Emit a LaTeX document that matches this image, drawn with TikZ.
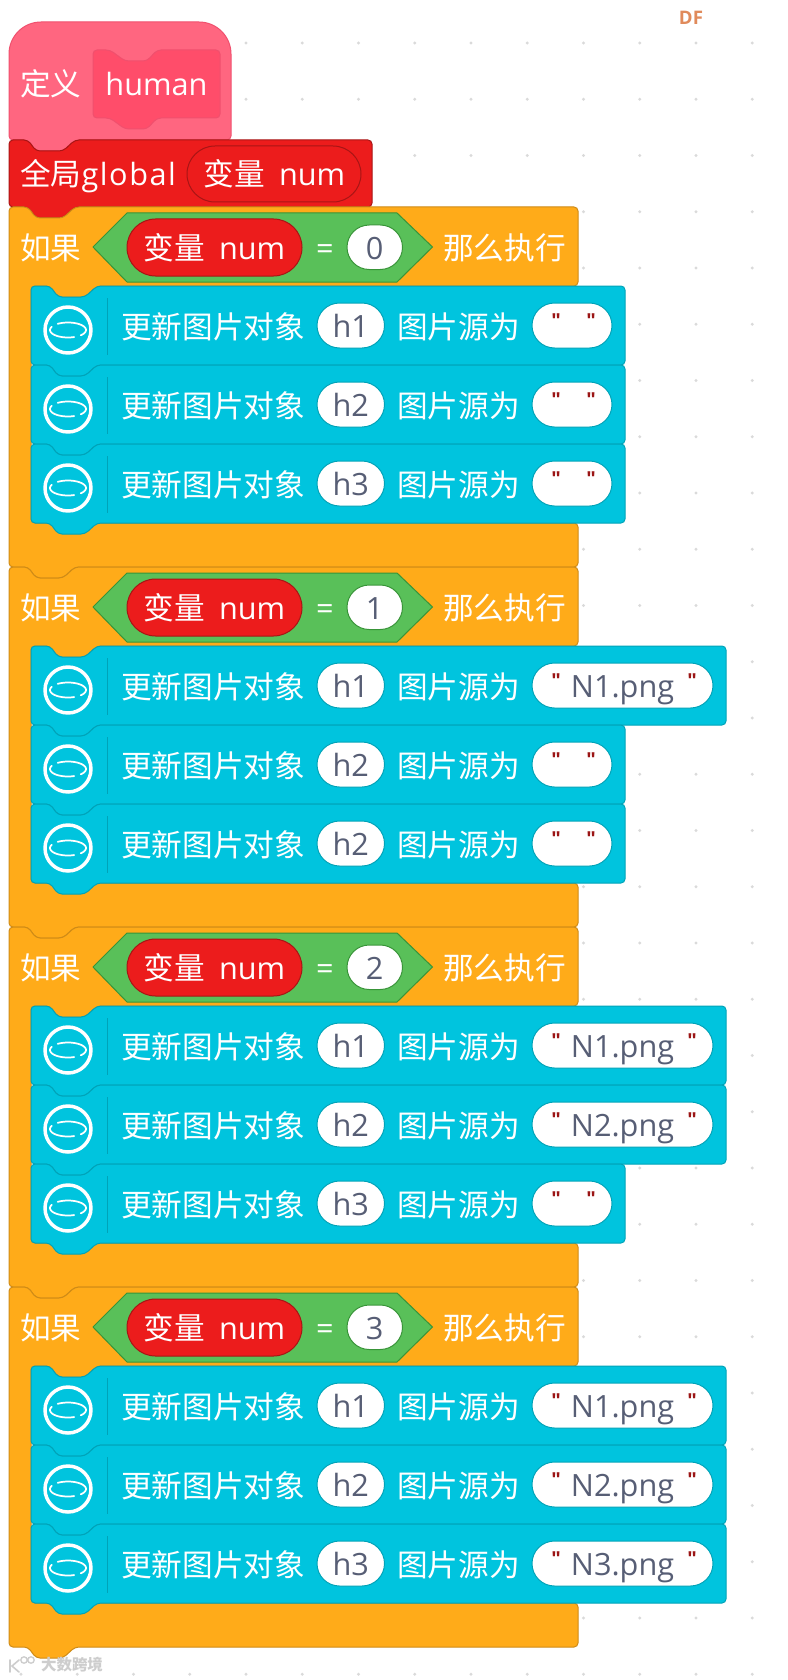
\documentclass[tikz,border=0pt]{standalone}
\usepackage{fontspec}
\setmainfont{Open Sans}
\newfontfamily\cjk{Noto Sans CJK SC}
\newfontfamily\quotef{Liberation Sans}
\definecolor{orangeF}{HTML}{FFAB19}
\definecolor{orangeD}{HTML}{CF8B17}
\definecolor{greenF}{HTML}{59C059}
\definecolor{greenD}{HTML}{389438}
\definecolor{redF}{HTML}{EC1C1C}
\definecolor{redD}{HTML}{A81515}
\definecolor{tealF}{HTML}{00C4DE}
\definecolor{tealD}{HTML}{00A3B8}
\definecolor{pinkF}{HTML}{FF6680}
\definecolor{pinkD}{HTML}{F0506E}
\definecolor{pinkI}{HTML}{FF4D6A}
\definecolor{inkD}{HTML}{575E75}
\definecolor{quoteC}{HTML}{9B1515}
\definecolor{dotC}{HTML}{DADADA}
\definecolor{wmC}{HTML}{CDCDCD}
\definecolor{dfC}{HTML}{E08A5B}
\tikzset{
  x=0.75pt,y=-0.75pt,
  shapeline/.style={line width=0.75pt,rounded corners=3pt,line join=round},
  orangeblock/.style={shapeline,fill=orangeF,draw=orangeD},
  tealblock/.style={shapeline,fill=tealF,draw=tealD},
  redblock/.style={shapeline,fill=redF,draw=redD},
  pinkblock/.style={shapeline,fill=pinkF,draw=pinkD},
  pinkinner/.style={shapeline,fill=pinkI,draw=pinkD},
  hexshape/.style={line width=0.75pt,fill=greenF,draw=greenD,line join=round},
  labeltext/.style={inner sep=0pt,anchor=base west,text=white,font=\fontsize{23pt}{23pt}\selectfont},
  labelmid/.style={inner sep=0pt,anchor=base,text=white,font=\fontsize{23pt}{23pt}\selectfont},
  valuetext/.style={inner sep=0pt,anchor=base,text=inkD,font=\fontsize{23pt}{23pt}\selectfont},
  quotetext/.style={inner sep=0pt,anchor=base,text=quoteC,font=\quotef\fontsize{15pt}{15pt}\bfseries\selectfont},
}
% pill: x1 y1 x2 y2 style
\newcommand\pillshape[5]{%
  \pgfmathsetmacro\pillr{((#4)-(#2))/2*0.75-0.01}%
  \path[#5,rounded corners=\pillr pt,line width=0.75pt] (#1,#2) -- (#3,#2) -- (#3,#4) -- (#1,#4) -- cycle;%
}
% variable pill: id, x1, y1, x2, y2
\newcommand\varpill[5]{%
  \pillshape{#2}{#3}{#4}{#5}{fill=redF,draw=redD}%
}
% statement row: id, y0, handle, right edge, pill right, source
\newcommand\stmtrow[6]{%
  \draw[tealblock]
    (31,#2) -- (50,#2) -- (58,#2+11) -- (85,#2+11) -- (97,#2) -- (#4,#2) -- (#4,#2+79)
    -- (97,#2+79) -- (85,#2+90) -- (58,#2+90) -- (50,#2+79) -- (31,#2+79) -- cycle;
  \draw[white,line width=2.6pt] (68,#2+44) circle[radius=23];
  \draw[white,line width=1.3pt,line cap=round] plot[smooth,domain=-125:45,samples=24] ({68+18*cos(\x)},{#2+44+7.5*sin(\x)});
  \draw[white,line width=1.3pt,line cap=round] plot[smooth,domain=70:205,samples=20] ({68+18*cos(\x)},{#2+44+7.5*sin(\x)});
  \draw[tealD,line width=0.75pt] (107,#2+12) -- (107,#2+69);
  \node[labeltext] (#1a) at (121,#2+52) {\cjk 更新图片对象};
  \pillshape{317}{#2+17}{384.5}{#2+62}{fill=white,draw=tealD}
  \node[valuetext] (#1h) at (350.75,#2+51) {#3};
  \node[labeltext] (#1b) at (397,#2+52) {\cjk 图片源为};
  \pillshape{532}{#2+17}{#5}{#2+62}{fill=white,draw=tealD}
  \node[quotetext] (#1q) at (556,#2+41) {"};
  \node[quotetext] (#1r) at (#5-21,#2+41) {"};
  \node[valuetext] (#1s) at (#5/2+532/2,#2+51) {#6};
}
% if header: id, Y, value
\newcommand\ifblock[3]{%
  \draw[orangeblock]
    (9,#2) -- (28,#2) -- (36,#2+11) -- (63,#2+11) -- (75,#2) -- (578,#2) -- (578,#2+79)
    -- (97,#2+79) -- (85,#2+90) -- (58,#2+90) -- (50,#2+79) -- (31,#2+79) -- (31,#2+316)
    -- (578,#2+316) -- (578,#2+360) -- (75,#2+360) -- (63,#2+371) -- (36,#2+371)
    -- (28,#2+360) -- (9,#2+360) -- cycle;
  \node[labeltext] (#1a) at (20,#2+52) {\cjk 如果};
  \draw[hexshape] (93,#2+40) -- (127,#2+6) -- (397,#2+6) -- (432.5,#2+40) -- (397,#2+75) -- (127,#2+75) -- cycle;
  \varpill{#1p}{127}{#2+12}{302}{#2+69}
  \node[labelmid] (#1v) at (214.5,#2+52) {{\cjk 变量}\hspace{10.5pt}num};
  \node[labelmid] (#1e) at (325,#2+52) {=};
  \pillshape{347}{#2+18}{402.5}{#2+62.5}{fill=white,draw=greenD}
  \node[valuetext] (#1n) at (374.75,#2+52) {#3};
  \node[labeltext] (#1b) at (443,#2+52) {\cjk 那么执行};
}
\begin{document}
\begin{tikzpicture}
\useasboundingbox (0,0) rectangle (788,1680);
\fill[white] (0,0) rectangle (788,1680);
% grid of dots
\foreach \i in {0,...,13}
  \foreach \j in {0,...,29}
    \fill[dotC] (21+56.25*\i,43+56.25*\j) circle[radius=1.7];
% hat
\draw[pinkblock,rounded corners=3pt]
  (28,140) -- (9,140) [rounded corners=24pt] -- (9,22) -- (231,22) [rounded corners=3pt] -- (231,140)
  -- (75,140) -- (63,151) -- (36,151) -- cycle;
\draw[pinkinner]
  (93,50) -- (110,50) -- (125,61) -- (147,61) -- (157,50) -- (220,50) -- (220,118)
  -- (157,118) -- (147,129) -- (125,129) -- (110,118) -- (93,118) -- cycle;
\node[labeltext] (defword) at (20,96) {\cjk 定义};
\node[labelmid] (humanword) at (156.5,96) {human};
% global
\draw[redblock]
  (9,140) -- (28,140) -- (36,151) -- (63,151) -- (75,140) -- (372,140) -- (372,207)
  -- (75,207) -- (63,218) -- (36,218) -- (28,207) -- (9,207) -- cycle;
\node[labeltext] (globalword) at (20,186) {{\cjk 全局}{\addfontfeature{LetterSpace=5}global}};
\varpill{gp}{187}{146}{361}{202}
\node[labelmid] (gvar) at (274.5,186) {{\cjk 变量}\hspace{10.5pt}num};
% if 0
\ifblock{ia}{207}{0}
\stmtrow{ra}{286}{h1}{625}{612}{}
\stmtrow{rb}{365}{h2}{625}{612}{}
\stmtrow{rc}{444}{h3}{625}{612}{}
% if 1
\ifblock{ib}{567}{1}
\stmtrow{rd}{646}{h1}{726}{713}{N1.png}
\stmtrow{re}{725}{h2}{625}{612}{}
\stmtrow{rf}{804}{h2}{625}{612}{}
% if 2
\ifblock{ic}{927}{2}
\stmtrow{rg}{1006}{h1}{726}{713}{N1.png}
\stmtrow{rh}{1085}{h2}{726}{713}{N2.png}
\stmtrow{ri}{1164}{h3}{625}{612}{}
% if 3
\ifblock{id}{1287}{3}
\stmtrow{rj}{1366}{h1}{726}{713}{N1.png}
\stmtrow{rk}{1445}{h2}{726}{713}{N2.png}
\stmtrow{rl}{1524}{h3}{726}{713}{N3.png}
% marks
\node[inner sep=0pt,anchor=base,text=dfC,font=\fontsize{14pt}{14pt}\bfseries\selectfont] (dfmark) at (691,25) {DF};
\draw[wmC,line width=1.2pt,line cap=round] (10,1660) -- (10,1672) (19,1660) -- (12,1666) -- (19,1672);
\draw[wmC,line width=1pt] (24,1660) circle[radius=3.2] (31,1660) circle[radius=3.2];
\node[inner sep=0pt,anchor=center,text=wmC,font=\fontsize{11.6pt}{12pt}\bfseries\selectfont] (wmark) at (72,1665) {\cjk 大数跨境};
\end{tikzpicture}
\end{document}
